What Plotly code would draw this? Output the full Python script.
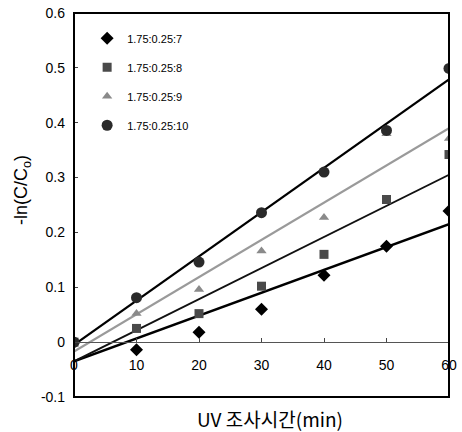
import plotly.graph_objects as go

# Data
time_min = [0, 10, 20, 30, 40, 50, 60]
series_names = ["1.75:0.25:7", "1.75:0.25:8", "1.75:0.25:9", "1.75:0.25:10"]
s7 = [0.0, -0.014, 0.018, 0.060, 0.122, 0.175, 0.239]
s8 = [0.0, 0.025, 0.052, 0.102, 0.160, 0.260, 0.342]
s9 = [0.0, 0.052, 0.096, 0.166, 0.227, 0.380, 0.371]
s10 = [0.0, 0.081, 0.146, 0.236, 0.310, 0.386, 0.499]

# Fitted trend lines (endpoints)
fit_x = [0, 60]
fit7 = [-0.035, 0.215]
fit8 = [-0.035, 0.305]
fit9 = [-0.017, 0.390]
fit10 = [-0.005, 0.479]

y_ticks = [-0.1, 0, 0.1, 0.2, 0.3, 0.4, 0.5, 0.6]
y_ticktext = ["-0.1", "0", "0.1", "0.2", "0.3", "0.4", "0.5", "0.6"]
x_ticks = [0, 10, 20, 30, 40, 50, 60]

FONT = "Liberation Sans, Arial, sans-serif"

fig = go.Figure()

# trend lines
for fx, fy, col, w in [
    (fit_x, fit7, "#000000", 2.6),
    (fit_x, fit8, "#111111", 1.8),
    (fit_x, fit9, "#9a9a9a", 2.2),
    (fit_x, fit10, "#000000", 2.2),
]:
    fig.add_trace(go.Scatter(x=fx, y=fy, mode="lines", line=dict(color=col, width=w),
                             showlegend=False, hoverinfo="skip"))

styles = [
    (s7, "diamond", "#000000", 10),
    (s8, "square", "#4a4a4a", 9),
    (s9, "triangle-up", "#8a8a8a", 9),
    (s10, "circle", "#2a2a2a", 11),
]
for i, (vals, sym, col, sz) in enumerate(styles):
    fig.add_trace(go.Scatter(
        x=time_min, y=vals, mode="markers", name=series_names[i],
        legendgroup=f"g{i}",
        marker=dict(symbol=sym, color=col, size=sz, line=dict(width=0)),
    ))

fig.update_layout(
    template="none",
    width=462, height=432,
    margin=dict(l=74, r=13, t=13, b=35),
    paper_bgcolor="white", plot_bgcolor="white",
    font=dict(family=FONT, color="black", size=14),
    xaxis=dict(
        range=[0, 60], tickvals=x_ticks, ticks="inside", ticklen=4, tickcolor="#444",
        showline=True, linecolor="#555", linewidth=1, showgrid=False, zeroline=False,
        anchor="free", position=1/7, ticklabelstandoff=10, automargin=False,
        ticklabeloverflow="allow", tickfont=dict(size=14, family=FONT),
    ),
    yaxis=dict(
        range=[-0.1, 0.6], tickvals=y_ticks, ticktext=y_ticktext, ticks="inside",
        ticklen=4, tickcolor="#444", showline=False, showgrid=False, zeroline=False,
        ticklabelstandoff=8, automargin=False, ticklabeloverflow="allow",
        tickfont=dict(size=14, family=FONT),
    ),
    legend=dict(
        x=0.035, y=0.972, xanchor="left", yanchor="top",
        bgcolor="rgba(0,0,0,0)", font=dict(size=11, family=FONT),
        tracegroupgap=10, borderwidth=0,
    ),
    showlegend=True,
)

# plot frame
fig.add_shape(type="rect", xref="x domain", yref="y domain", x0=0, x1=1, y0=0, y1=1,
              line=dict(color="black", width=2), layer="above")

# axis titles
fig.add_annotation(text="UV 조사시간(min)", xref="paper", yref="paper", x=0.523, y=-0.057,
                   xanchor="center", yanchor="middle", showarrow=False,
                   font=dict(size=19, family="Noto Sans CJK KR, " + FONT))
fig.add_annotation(text="-ln(C/C<sub>o</sub>)", xref="paper", yref="paper", x=-0.139, y=0.539,
                   xanchor="center", yanchor="middle", showarrow=False, textangle=-90,
                   font=dict(size=18, family=FONT))

fig.write_html(
    "out.html",
    config={"displayModeBar": False},
    post_script="document.body.style.margin='0';document.body.style.overflow='hidden';",
)
